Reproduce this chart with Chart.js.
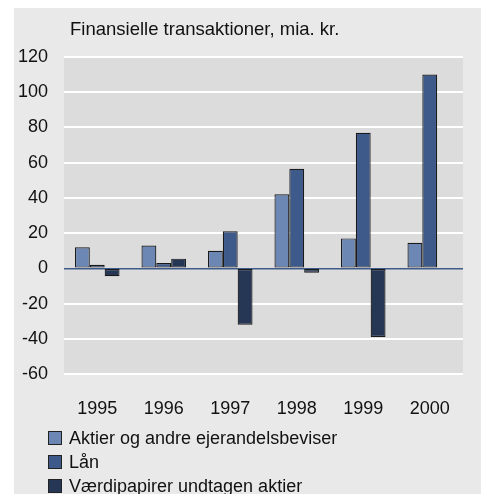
<!DOCTYPE html>
<html>
<head>
<meta charset="utf-8">
<script src="https://cdn.jsdelivr.net/npm/chart.js@4"></script>
<style>
  html, body { margin: 0; padding: 0; background: #fff; }
  #wrap { position: relative; width: 481px; height: 494px; overflow: hidden; }
  #title { position: absolute; left: 70px; top: 18px; font: 18.5px "Liberation Sans", Arial, sans-serif; color: #111; }
  #legend { position: absolute; left: 48px; top: 426px; font: 18px "Liberation Sans", Arial, sans-serif; color: #111; line-height: 24px; }
  #legend div { display: flex; align-items: center; }
  #legend span.box { display: inline-block; width: 12px; height: 12px; border: 1px solid #222; margin-right: 7px; }
</style>
</head>
<body>
<div id="wrap">
  <canvas id="chart" width="481" height="494"></canvas>
  <div id="title">Finansielle transaktioner, mia. kr.</div>
  <div id="legend"></div>
</div>
<script>
// --- data ---
const years = ["1995", "1996", "1997", "1998", "1999", "2000"];
const seriesNames = ["Aktier og andre ejerandelsbeviser", "Lån", "Værdipapirer undtagen aktier"];
const aktier = [12, 13, 10, 42, 17, 14.5];
const laan = [2, 3, 21, 56.5, 77, 110];
const vaerdipapirer = [-4.5, 5.5, -32, -2.5, -39, 0];
const yTicks = [-60, -40, -20, 0, 20, 40, 60, 80, 100, 120];

const colors = ["#6d87b5", "#3e5a8a", "#263655"];
const FONT = "'Liberation Sans', Arial, sans-serif";

// grey panel + plot area background
const background = {
    id: "background",
    beforeDraw(chart) {
        const ctx = chart.ctx;
        const a = chart.chartArea;
        ctx.save();
        ctx.fillStyle = "#e9e9e9";
        ctx.fillRect(14, 8, chart.width - 14, chart.height - 8);
        ctx.fillStyle = "#dcdcdc";
        ctx.fillRect(a.left, a.top, a.right - a.left, a.bottom - a.top);
        ctx.restore();
    }
};

const data = {
    labels: years,
    datasets: [aktier, laan, vaerdipapirer].map((vals, i) => ({
        label: seriesNames[i],
        data: vals,
        backgroundColor: colors[i],
        borderColor: "#1a1a1a",
        borderWidth: 1.2,
        borderSkipped: false
    }))
};

new Chart(document.getElementById("chart"), {
    type: "bar",
    data: data,
    options: {
        responsive: false,
        animation: false,
        layout: { padding: { top: 57, right: 18, left: 0, bottom: 0 } },
        datasets: { bar: { categoryPercentage: 0.67, barPercentage: 1 } },
        plugins: {
            legend: { display: false },
            title: { display: false },
            tooltip: { enabled: false }
        },
        scales: {
            x: {
                grid: { display: false, drawTicks: false },
                border: { display: false },
                ticks: { color: "#111", font: { family: FONT, size: 18 }, padding: 24 },
                afterFit(scale) { scale.height = 120; }
            },
            y: {
                min: -60,
                max: 120,
                afterBuildTicks(scale) { scale.ticks = yTicks.map(v => ({ value: v })); },
                grid: {
                    drawTicks: false,
                    lineWidth: ctx => ctx.tick && ctx.tick.value === 0 ? 1.5 : 2,
                    color: ctx => ctx.tick && ctx.tick.value === 0 ? "#3e5a8a" : "#ffffff"
                },
                border: { display: false },
                ticks: { color: "#111", font: { family: FONT, size: 18 }, padding: 16 },
                afterFit(scale) { scale.width = 64; }
            }
        }
    },
    plugins: [background]
});

// legend, one item per row
const legend = document.getElementById("legend");
seriesNames.forEach((name, i) => {
    const row = document.createElement("div");
    row.innerHTML = '<span class="box" style="background:' + colors[i] + '"></span>' + name;
    legend.appendChild(row);
});
</script>
</body>
</html>
